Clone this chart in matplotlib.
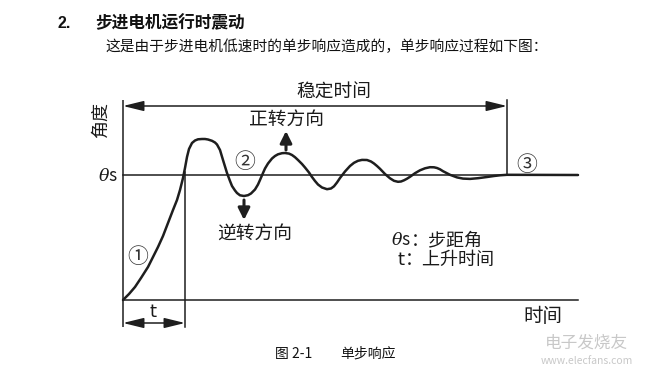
import matplotlib
matplotlib.use("Agg")
import matplotlib.pyplot as plt

plt.rcParams['font.family'] = ['Noto Sans CJK SC', 'DejaVu Sans']
plt.rcParams['mathtext.fontset'] = 'dejavuserif'

# ---- data (in picture units) ----
curve_x = [123, 129, 135, 141, 148, 153, 158, 163, 168, 173, 177, 180, 183, 185, 187, 189, 192,
           195, 198, 202, 205, 208, 212, 215, 217, 220, 223, 227, 230, 232, 235, 237, 240, 244,
           248, 251, 255, 258, 260, 263, 265, 268, 272, 275, 278, 282, 285, 289, 292, 295, 298,
           302, 305, 309, 312, 315, 318, 322, 327, 331, 334, 337, 340, 345, 350, 354, 358, 362,
           367, 371, 374, 377, 380, 385, 390, 394, 398, 401, 404, 407, 410, 415, 420, 425, 430,
           434, 437, 440, 443, 450, 457, 463, 470, 478, 487, 494, 500, 507, 578]
curve_y = [300, 294, 287, 278, 267, 257, 247, 236, 223, 210, 200, 190, 178, 168, 157, 149, 143,
           140.5, 139.3, 139, 139, 139.5, 140.8, 142.5, 144.5, 150, 160, 173, 181, 186, 190.5, 193, 195.3, 196,
           195.2, 193.5, 189.5, 184.5, 180, 173, 168.5, 163.5, 158.5, 156, 154.3, 153.2, 153, 153.6, 155, 157.2, 160,
           164, 167.5, 172.5, 177, 181, 184.5, 187.5, 189.2, 188.5, 186.3, 182.5, 178, 171.5, 166, 162.8, 160.8, 159.9,
           160, 161.5, 163.5, 166, 168.8, 174, 178.3, 180.8, 181.8, 181.5, 180.3, 178.7, 176.8, 173.2, 170.3, 168.3, 167.2,
           167.3, 168, 169.3, 171.2, 174.8, 177.4, 178.6, 178.9,
           178.2, 177, 176, 175.3, 174.8, 175]

title = "步进电机运行时震动"
subtitle = "这是由于步进电机低速时的单步响应造成的，单步响应过程如下图："
caption_num = "图 2-1"
caption_txt = "单步响应"

# ---- layout (picture units) ----
W, H = 652, 375
x0, y_base, y_s = 123, 300, 175
x_t, x_end, x_stable = 185, 578, 507
y_top, y_dim, y_stable = 100, 327, 106

fig = plt.figure(figsize=(6.52, 3.75), dpi=100)
ax = fig.add_axes([0, 0, 1, 1])
ax.set_xlim(0, W)
ax.set_ylim(H, 0)
ax.axis('off')

lc = '#1e1e1e'
tc = '#1a1a1a'

# guide lines
ax.plot([x0, x0], [y_top, y_dim], color=lc, lw=1.1, solid_capstyle='butt')
ax.plot([x0, x_end], [y_base, y_base], color=lc, lw=1.1)
ax.plot([x0, x_end], [y_s, y_s], color=lc, lw=1.1)
ax.plot([x_t, x_t], [172, y_dim], color=lc, lw=1.1)
ax.plot([x_stable, x_stable], [y_top, y_s], color=lc, lw=1.1)

# response curve
ax.plot(curve_x, curve_y, color=lc, lw=1.8, solid_joinstyle='round', solid_capstyle='round')

# dimension arrows
ax.annotate('', xy=(x0, y_stable), xytext=(x_stable, y_stable),
            arrowprops=dict(arrowstyle='<|-|>,head_length=0.9,head_width=0.22',
                            mutation_scale=14, lw=1.1, color=lc, shrinkA=0, shrinkB=0))
ax.annotate('', xy=(x0, 323), xytext=(x_t, 323),
            arrowprops=dict(arrowstyle='<|-|>,head_length=0.9,head_width=0.22',
                            mutation_scale=14, lw=1.1, color=lc, shrinkA=0, shrinkB=0))

# direction arrows
ax.annotate('', xy=(286, 131), xytext=(286, 150),
            arrowprops=dict(arrowstyle='-|>,head_length=0.5,head_width=0.25',
                            mutation_scale=14, lw=2.2, color=lc, shrinkA=0, shrinkB=0))
ax.annotate('', xy=(244, 220), xytext=(244, 200),
            arrowprops=dict(arrowstyle='-|>,head_length=0.5,head_width=0.25',
                            mutation_scale=14, lw=2.2, color=lc, shrinkA=0, shrinkB=0))

# texts
ax.text(57, 23, "2.", fontsize=11.5, fontweight='bold', color='#111', ha='left', va='center',
        family=['Liberation Sans', 'DejaVu Sans'])
ax.text(95, 23, title, fontsize=12, fontweight='bold', color='#111', ha='left', va='center')
ax.text(105, 47, subtitle, fontsize=10.6, color='#111', ha='left', va='center')

ax.text(334, 92, "稳定时间", fontsize=13.5, color=tc, ha='center', va='center')
ax.text(287, 119, "正转方向", fontsize=13.5, color=tc, ha='center', va='center')
ax.text(255, 234, "逆转方向", fontsize=13.5, color=tc, ha='center', va='center')
ax.text(101, 120, "角度", fontsize=13, color=tc, ha='center', va='center', rotation=90)
ax.text(118, 176, r"$\theta$s", fontsize=12.5, color=tc, ha='right', va='center')
ax.text(153, 312, "t", fontsize=13, color=tc, ha='center', va='center',
        family=['DejaVu Sans'])
ax.text(543, 316, "时间", fontsize=14, color=tc, ha='center', va='center')

ax.text(138, 257, "①", fontsize=15, color='#333', ha='center', va='center')
ax.text(245, 162, "②", fontsize=15, color='#333', ha='center', va='center')
ax.text(527, 165, "③", fontsize=15, color='#333', ha='center', va='center')

ax.text(411, 240, r"$\theta$s", fontsize=12.5, color=tc, ha='right', va='center')
ax.text(411, 240, "：步距角", fontsize=13, color=tc, ha='left', va='center')
ax.text(404, 260, "t", fontsize=13, color=tc, ha='right', va='center', family=['DejaVu Sans'])
ax.text(405, 260, "：上升时间", fontsize=13, color=tc, ha='left', va='center')

ax.text(275, 354, caption_num, fontsize=10, color='#111', ha='left', va='center')
ax.text(340, 354, caption_txt, fontsize=10, color='#111', ha='left', va='center')

# watermark
ax.text(586, 343, "电子发烧友", fontsize=12, color='#c8c8c8', ha='center', va='center',
        style='italic')
ax.text(587, 361, "www.elecfans.com", fontsize=7.5, color='#c8c8c8', ha='center', va='center')

fig.savefig("out.png", dpi=100)
